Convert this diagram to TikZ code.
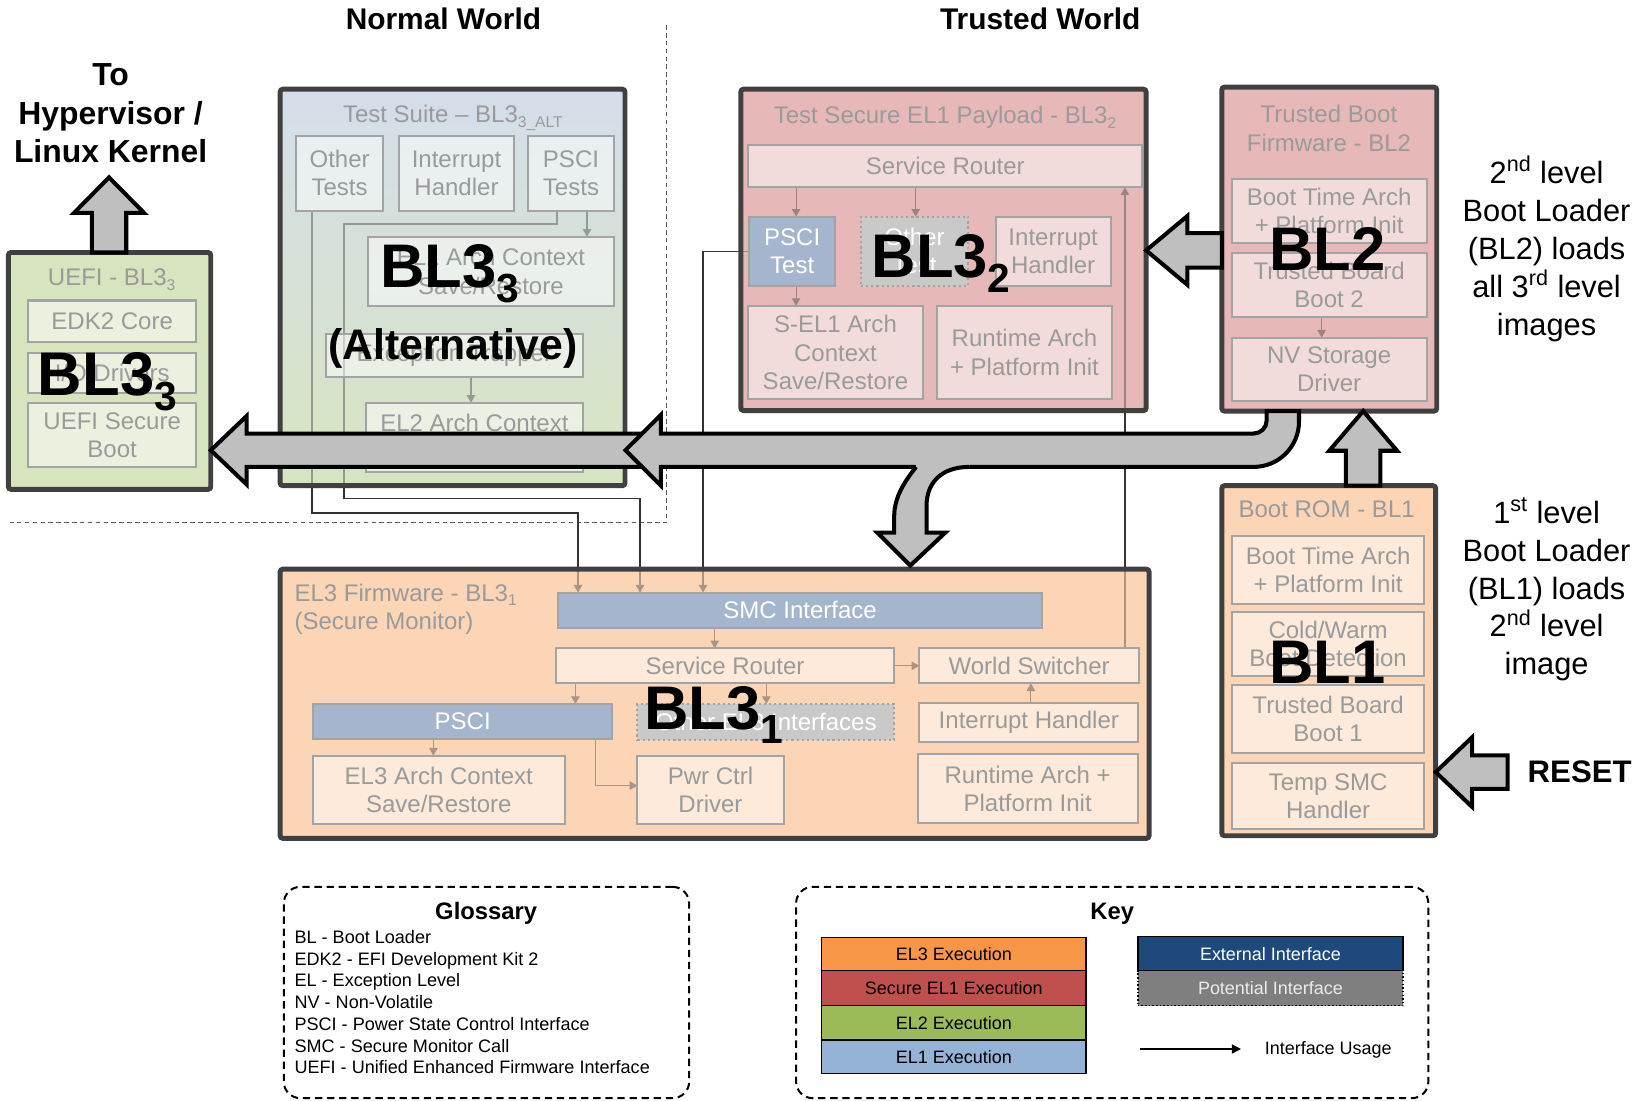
\documentclass[tikz,border=0pt]{standalone}
\usepackage{fontspec}
\setmainfont{Liberation Sans}
\usetikzlibrary{arrows.meta,calc}

\definecolor{frame}{HTML}{404040}
\definecolor{iborder}{HTML}{A3A3A3}
\definecolor{itext}{HTML}{9A9A9A}
\definecolor{uefiFill}{HTML}{D7E4BD}
\definecolor{tsTop}{HTML}{D4DEEA}
\definecolor{tsBot}{HTML}{D7E4C0}
\definecolor{redFill}{HTML}{E6B9B8}
\definecolor{peachFill}{HTML}{FBD5B5}
\definecolor{blueFill}{HTML}{A4B5CD}
\definecolor{dotFill}{HTML}{C9C9C9}
\definecolor{arrowFill}{HTML}{BFBFBF}
\definecolor{keyEL3}{HTML}{F79646}
\definecolor{keySEL1}{HTML}{C0504D}
\definecolor{keyEL2}{HTML}{9BBB59}
\definecolor{keyEL1}{HTML}{95B3D7}
\definecolor{keyExt}{HTML}{1F497D}
\definecolor{keyPot}{HTML}{7F7F7F}

\pgfdeclarelayer{bg}\pgfdeclarelayer{lines}\pgfdeclarelayer{fade}\pgfdeclarelayer{top}
\pgfsetlayers{bg,lines,fade,main,top}

\newcommand\setfs[2]{\fontsize{#1}{#2}\selectfont}
\newcommand\lowsub[1]{\raisebox{-0.35ex}{\setfs{8.5}{8.5}#1}}
\newcommand\bigsub[1]{\raisebox{-8pt}{\setfs{22.2}{22.2}#1}}
% a node given by its corner coordinates (picture units)
\newcommand\boxat[7][]{%
  \pgfmathsetmacro\boxw{(#5-#3)*0.02}%
  \pgfmathsetmacro\boxh{(#6-#4)*0.02}%
  \node[#1,minimum width=\boxw cm,minimum height=\boxh cm] (#2) at ({(#3+#5)/2},{(#4+#6)/2}) {#7};}

\begin{document}
\begin{tikzpicture}[x=0.02cm,y=-0.02cm,
  every node/.style={font=\setfs{13.1}{15.5}},
  bigfill/.style={inner sep=0pt,outer sep=0pt},
  bigline/.style={draw=frame,line width=2.7pt,rounded corners=1.5pt},
  ibox/.style={draw=iborder,line width=1.1pt,fill=white,fill opacity=0.5,text opacity=1,
    text=itext,align=center,inner sep=1pt,outer sep=0pt},
  bluebox/.style={ibox,fill=blueFill,fill opacity=1,text=white},
  dotbox/.style={ibox,fill=dotFill,fill opacity=1,text=white,dash pattern=on 1.2pt off 1.6pt},
  gtitle/.style={text=itext,inner sep=0pt,align=center},
  conn/.style={draw=black!80,line width=0.6pt,-{Triangle[length=4.2pt,width=4.6pt]}},
  blockarrow/.style={fill=arrowFill,draw=black,line width=2.2pt,line join=miter},
  biglabel/.style={font=\setfs{33.6}{33.6}\bfseries,inner sep=0pt,anchor=base west},
  head/.style={font=\setfs{16.3}{19}\bfseries,inner sep=0pt},
  side/.style={font=\setfs{16.8}{20.7},align=center,inner sep=0pt},
  keybox/.style={draw=black,line width=0.8pt,font=\setfs{9.8}{11},inner sep=0pt,outer sep=0pt},
  gloss/.style={draw=black,line width=1.1pt,dash pattern=on 4pt off 2.6pt,rounded corners=9pt,inner sep=0pt},
  divider/.style={draw=black!65,line width=0.6pt,dash pattern=on 2.5pt off 1.8pt}]

\useasboundingbox (0,0) rectangle (1568,1055);

% ---------- firmware image backgrounds ----------
\begin{pgfonlayer}{bg}
  \boxat[bigfill,fill=uefiFill]{uefi}{8}{242}{202}{469}{}
  \boxat[bigfill,top color=tsTop,bottom color=tsBot]{ts}{268.5}{85.5}{599}{465.5}{}
  \boxat[bigfill,fill=redFill]{pay}{710}{85.5}{1098.5}{393.5}{}
  \boxat[bigfill,fill=redFill]{tbf}{1171}{83.5}{1377}{394}{}
  \boxat[bigfill,fill=peachFill]{rom}{1171}{465.5}{1376}{801}{}
  \boxat[bigfill,fill=peachFill]{mon}{268.5}{545.5}{1101.3}{803.5}{}
  % normal / trusted world split
  \draw[divider] (639,24) -- (639,501) -- (10,501);
\end{pgfonlayer}

% ---------- UEFI - BL33 ----------
\node[gtitle] at (107,268) {UEFI - BL3\lowsub{3}};
\boxat[ibox]{edk}{27}{288}{188}{328}{EDK2 Core}
\boxat[ibox]{iod}{27}{338}{188}{377}{I/O Drivers}
\boxat[ibox]{usb}{27}{386}{188}{448}{UEFI Secure\\Boot}

% ---------- Test suite - BL33_ALT ----------
\node[gtitle] at (434,113) {Test Suite – BL3\lowsub{3\_ALT}};
\boxat[ibox]{ot}{284}{130}{367}{202}{Other\\Tests}
\boxat[ibox]{ih1}{382.5}{130}{492.5}{202}{Interrupt\\Handler}
\boxat[ibox]{pt}{506}{130}{588.5}{202}{PSCI\\Tests}
\boxat[ibox]{elc1}{352.5}{227}{588.5}{293}{EL1 Arch Context\\Save/Restore}
\boxat[ibox]{et}{312.5}{320}{558.5}{361}{Exception Trapper}
\boxat[ibox]{elc2}{351}{386}{558.5}{452}{}
\node[gtitle] at (454.7,405) {EL2 Arch Context};

% ---------- Test secure EL1 payload - BL32 ----------
\node[gtitle] at (905.7,112.5) {Test Secure EL1 Payload - BL3\lowsub{2}};
\boxat[ibox]{srp}{717.2}{139}{1094.8}{179.5}{Service Router}
\boxat[bluebox]{pst}{718.2}{207.7}{800.3}{273.8}{PSCI\\Test}
\boxat[dotbox]{otp}{825.2}{207.7}{928}{273.8}{Other\\Test}
\boxat[ibox]{ih2}{954.3}{207.7}{1064.5}{273.8}{Interrupt\\Handler}
\boxat[ibox]{sel1}{717.2}{293.3}{884.3}{382.4}{S-EL1 Arch\\Context\\Save/Restore}
\boxat[ibox]{rt2}{897.7}{293.3}{1066}{382.4}{Runtime Arch\\+ Platform Init}

% ---------- Trusted boot firmware - BL2 ----------
\node[gtitle] at (1273.7,123) {Trusted Boot\\Firmware - BL2};
\boxat[ibox]{bta2}{1180.5}{171.6}{1367.3}{232.6}{Boot Time Arch\\+ Platform Init}
\boxat[ibox]{tbb2}{1180.5}{242.2}{1367.3}{303.5}{Trusted Board\\Boot 2}
\boxat[ibox]{nv}{1180.5}{323.6}{1367.3}{384}{NV Storage\\Driver}

% ---------- Boot ROM - BL1 ----------
\node[gtitle] at (1271.5,488) {Boot ROM - BL1};
\boxat[ibox]{bta1}{1181}{513.4}{1364.8}{578.9}{Boot Time Arch\\+ Platform Init}
\boxat[ibox]{cw}{1181}{586.8}{1364.8}{647.9}{Cold/Warm\\Boot Detection}
\boxat[ibox]{tbb1}{1181}{656.5}{1364.8}{722}{Trusted Board\\Boot 1}
\boxat[ibox]{tsmc}{1181}{731}{1364.8}{794.8}{Temp SMC\\Handler}

% ---------- EL3 firmware - BL31 ----------
\node[gtitle,anchor=west,align=left] at (282,584) {EL3 Firmware - BL3\lowsub{1}\\(Secure Monitor)};
\boxat[bluebox]{smc}{534.6}{568}{999}{601.6}{SMC Interface}
\boxat[ibox]{srm}{532.8}{621.4}{857.1}{654.9}{Service Router}
\boxat[ibox]{ws}{881.1}{621.4}{1091.6}{654.9}{World Switcher}
\boxat[ibox]{ih3}{881.1}{674.1}{1091}{710.8}{Interrupt Handler}
\boxat[ibox]{rt3}{879.5}{723}{1090.4}{789}{Runtime Arch +\\Platform Init}
\boxat[bluebox]{psci}{299.9}{674.7}{587}{708.3}{PSCI}
\boxat[dotbox]{oel3}{610.9}{674.7}{857.1}{709}{Other EL3 Interfaces}
\boxat[ibox]{el3c}{299.9}{724.2}{541.2}{789.7}{EL3 Arch Context\\Save/Restore}
\boxat[ibox]{pwr}{610.9}{724.2}{751}{789.7}{Pwr Ctrl\\Driver}

% ---------- interface usage ----------
\begin{pgfonlayer}{lines}
  \draw[conn] (562.6,0 |- pt.south) -- (562.6,0 |- elc1.north);
  \draw[conn] (451.4,0 |- et.south) -- (451.4,0 |- elc2.north);
  \draw[conn] (299,0 |- ot.south) -- (299,491.7) -- (554,491.7) -- (554,0 |- smc.north);
  \draw[conn] (533.8,0 |- pt.south) -- (533.8,214.7) -- (329.7,214.7) -- (329.7,478)
              -- (613.4,478) -- (613.4,0 |- smc.north);
  \draw[conn] (pst.west) -- (673.8,0 |- pst.west) -- (673.8,0 |- smc.north);
  \draw[conn] (1078.2,0 |- ws.north) -- (1078.2,0 |- srp.south);
  \draw[conn] (763,0 |- srp.south) -- (763,0 |- pst.north);
  \draw[conn] (877.6,0 |- srp.south) -- (877.6,0 |- otp.north);
  \draw[conn] (763,0 |- pst.south) -- (763,0 |- sel1.north);
  \draw[conn] (1266.7,0 |- tbb2.south) -- (1266.7,0 |- nv.north);
  \draw[conn] (685,0 |- smc.south) -- (685,0 |- srm.north);
  \draw[conn] (551.5,0 |- srm.south) -- (551.5,0 |- psci.north);
  \draw[conn] (734.5,0 |- srm.south) -- (734.5,0 |- oel3.north);
  \draw[conn] (srm.east) -- (ws.west);
  \draw[conn] (988,0 |- ih3.north) -- (988,0 |- ws.south);
  \draw[conn] (415.4,0 |- psci.south) -- (415.4,0 |- el3c.north);
  \draw[conn] (570.5,0 |- psci.south) -- (570.5,753) -- (pwr.west |- 0,753);
\end{pgfonlayer}

% lines inside an image are shown faded
\begin{pgfonlayer}{fade}
  \fill[uefiFill,fill opacity=0.6] (uefi.north west) rectangle (uefi.south east);
  \shade[top color=tsTop,bottom color=tsBot,fill opacity=0.6] (ts.north west) rectangle (ts.south east);
  \fill[redFill,fill opacity=0.6] (pay.north west) rectangle (pay.south east);
  \fill[redFill,fill opacity=0.6] (tbf.north west) rectangle (tbf.south east);
  \fill[peachFill,fill opacity=0.6] (rom.north west) rectangle (rom.south east);
  \fill[peachFill,fill opacity=0.6] (mon.north west) rectangle (mon.south east);
\end{pgfonlayer}

\begin{pgfonlayer}{top}
  % image frames
  \foreach \b in {uefi,ts,pay,tbf,rom,mon}
    \draw[bigline] (\b.north west) rectangle (\b.south east);

  % image names
  \node[biglabel] at (36,379) {BL3\bigsub{3}};
  \node[biglabel] at (364,276) {BL3\bigsub{3}};
  \node[font=\setfs{23.3}{23.3}\bfseries,inner sep=0pt,anchor=base] at (434,345) {(Alternative)};
  \node[biglabel] at (835,266) {BL3\bigsub{2}};
  \node[biglabel] at (1216,259) {BL2};
  \node[biglabel] at (1216,655) {BL1};
  \node[biglabel] at (617,699) {BL3\bigsub{1}};

  % hand-off to the kernel
  \coordinate (kernel) at (104.5,170);
  \draw[blockarrow] (88,0 |- uefi.north) -- (88,204) -- (71,204) -- (kernel) -- (138,204)
      -- (121,204) -- (121,0 |- uefi.north) -- cycle;

  % BL2 hands over to BL33 (through the normal world) and BL31
  \draw[blockarrow] (630,415.5) -- (236.4,415.5) -- (236.4,398.7) -- (uefi.east |- 0,431.5)
      -- (236.4,464.3) -- (236.4,447.5) -- (630,447.5) -- cycle;
  \draw[blockarrow] (1214,0 |- tbf.south) -- (1214,403)
      .. controls (1214,409.9) and (1208.4,415.5) .. (1201.5,415.5)
      -- (633.3,415.5) -- (633.3,397.7) -- (599.4,431.5) -- (633.3,465.3) -- (633.3,447.5)
      -- (1201.5,447.5) .. controls (1225.5,447.5) and (1245,428) .. (1245,404)
      -- (1245,0 |- tbf.south) -- cycle;
  \coordinate (montop) at (872.5,542);
  \fill[arrowFill] (878,440) -- (929,440) -- (929,447.5)
      .. controls (903,447.5) and (888,462) .. (888,485) -- (888,510.5) -- (906,510.5)
      -- (montop) -- (841,510.5) -- (857,510.5) -- (857,495)
      .. controls (857,475) and (869,459) .. (878,447.5) -- cycle;
  \draw[line width=2.2pt,line join=miter] (929,447.5)
      .. controls (903,447.5) and (888,462) .. (888,485) -- (888,510.5) -- (906,510.5)
      -- (montop) -- (841,510.5) -- (857,510.5) -- (857,495)
      .. controls (857,475) and (869,459) .. (878,447.5);

  % BL2 loads BL32
  \draw[blockarrow] (tbf.west |- 0,223.5) -- (1138,223.5) -- (1138,207) -- (pay.east |- 0,240)
      -- (1138,273) -- (1138,256.5) -- (tbf.west |- 0,256.5) -- cycle;
  % BL1 loads BL2
  \draw[blockarrow] (1290,0 |- rom.north) -- (1290,432) -- (1274,432) -- (1306.5,0 |- tbf.south)
      -- (1339,432) -- (1323,432) -- (1323,0 |- rom.north) -- cycle;
  % reset entry
  \coordinate (resetin) at (1445,740);
  \draw[blockarrow] (resetin |- 0,724) -- (1411,724) -- (1411,706.5) -- (rom.east |- 0,740)
      -- (1411,773.5) -- (1411,756) -- (resetin |- 0,756) -- cycle;
\end{pgfonlayer}

% ---------- headings and side notes ----------
\node[head] at (425,18) {Normal World};
\node[head] at (997,18) {Trusted World};
\node[font=\setfs{17.4}{21}\bfseries,align=center,inner sep=0pt] at (106,108.5)
  {To\\Hypervisor /\\Linux Kernel};
\node[side] at (1482.3,238.5)
  {2\textsuperscript{nd} level\\Boot Loader\\(BL2) loads\\all 3\textsuperscript{rd} level\\images};
\node[side] at (1482.3,565)
  {1\textsuperscript{st} level\\Boot Loader\\(BL1) loads\\2\textsuperscript{nd} level\\image};
\node[font=\setfs{17}{17}\bfseries,inner sep=0pt] at (1514,740) {RESET};

% ---------- glossary ----------
\boxat[gloss]{glo}{272}{850}{660.5}{1052.5}{}
\node[font=\setfs{13}{13}\bfseries,inner sep=0pt] at (466,875.5) {Glossary};
\node[font=\setfs{9.85}{11.84},align=left,anchor=west,inner sep=0pt] at (282,960.5)
  {BL - Boot Loader\\EDK2 - EFI Development Kit 2\\EL - Exception Level\\NV - Non-Volatile\\
   PSCI - Power State Control Interface\\SMC - Secure Monitor Call\\
   UEFI - Unified Enhanced Firmware Interface};

% ---------- key ----------
\boxat[gloss]{key}{763}{850}{1369}{1052.5}{}
\node[font=\setfs{13}{13}\bfseries,inner sep=0pt] at (1066,875.5) {Key};
\boxat[keybox,fill=keyEL3]{k3}{787.6}{898.3}{1040.8}{930.3}{EL3 Execution}
\boxat[keybox,fill=keySEL1]{ks1}{787.6}{930.3}{1040.8}{963.9}{Secure EL1 Execution}
\boxat[keybox,fill=keyEL2]{k2}{787.6}{963.9}{1040.8}{996.7}{EL2 Execution}
\boxat[keybox,fill=keyEL1]{k1}{787.6}{996.7}{1040.8}{1028.7}{EL1 Execution}
\boxat[keybox,fill=keyExt,text=white]{kext}{1090.5}{897.6}{1344.7}{930.3}{External Interface}
\boxat[keybox,fill=keyPot,text=white!92!black,dash pattern=on 0.8pt off 1.2pt]{kpot}{1090.5}{930.3}{1344.7}{963.9}{Potential Interface}
\coordinate (kua) at (1092.4,1005.4);
\coordinate (kub) at (1189.4,1005.4);
\draw[line width=0.8pt,-{Triangle[length=5pt,width=5pt]}] (kua) -- (kub);
\node[font=\setfs{9.8}{11},inner sep=0pt] at (1273,1006.5) {Interface Usage};

\end{tikzpicture}
\end{document}
